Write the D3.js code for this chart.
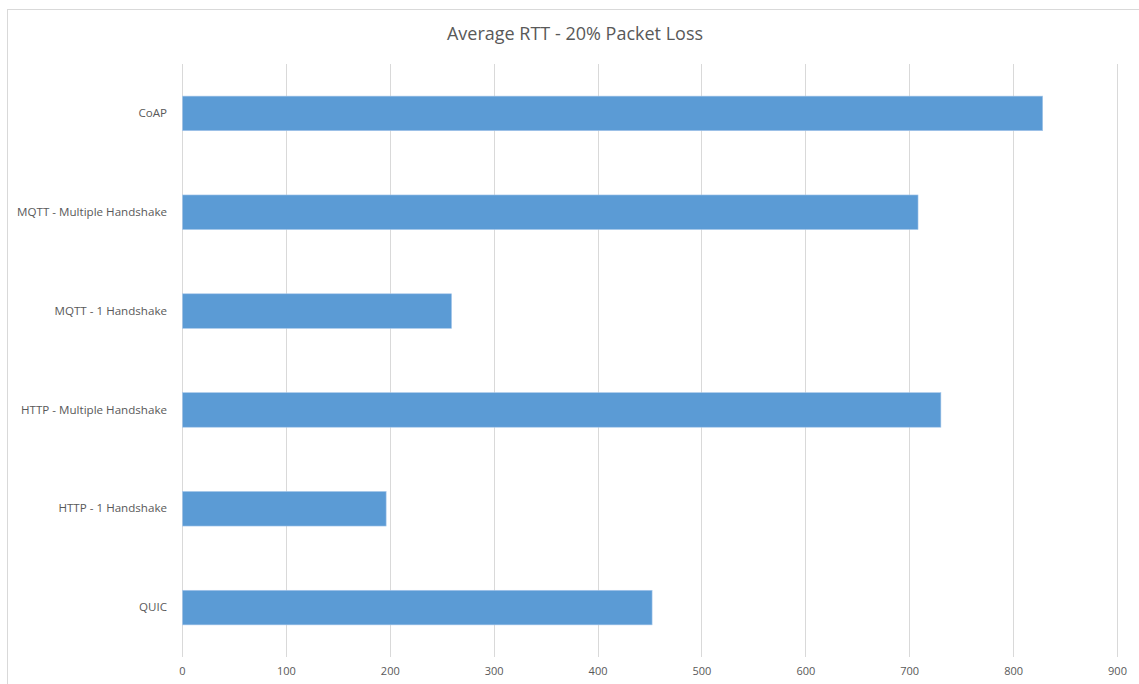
<!DOCTYPE html>
<html>
<head>
<meta charset="utf-8">
<script src="https://cdn.jsdelivr.net/npm/d3@7"></script>
<style>
  html, body { margin: 0; padding: 0; background: #ffffff; }
  svg { display: block; }
</style>
</head>
<body>
<svg id="chart" width="1139" height="684"></svg>
<script>
// Average round-trip time per protocol (ms), 20% packet loss
const categories = [
  "CoAP",
  "MQTT - Multiple Handshake",
  "MQTT - 1 Handshake",
  "HTTP - Multiple Handshake",
  "HTTP - 1 Handshake",
  "QUIC"
];
const rttValues = [828, 708, 259, 730, 196, 452];
const xTicks = [0, 100, 200, 300, 400, 500, 600, 700, 800, 900];
const chartTitle = "Average RTT - 20% Packet Loss";

const W = 1139, H = 684;
const margin = { top: 64, right: 22, bottom: 27, left: 182 };
const plotW = W - margin.left - margin.right;
const plotH = H - margin.top - margin.bottom;

const svg = d3.select("#chart");
const fontFam = "'Open Sans', 'Liberation Sans', sans-serif";
const textColor = "#595959";
const gridColor = "#d9d9d9";

// Outer chart frame (runs past the right and bottom edges)
svg.append("rect")
  .attr("x", 7.5).attr("y", 9.5)
  .attr("width", W + 20).attr("height", H + 20)
  .attr("fill", "none")
  .attr("stroke", gridColor)
  .attr("stroke-width", 1);

svg.append("text")
  .attr("x", 575).attr("y", 40)
  .attr("text-anchor", "middle")
  .attr("font-family", fontFam)
  .attr("font-size", 18)
  .attr("fill", textColor)
  .text(chartTitle);

const x = d3.scaleLinear().domain([0, 900]).range([0, plotW]);
const y = d3.scaleBand().domain(categories).range([0, plotH])
  .paddingInner(0.65).paddingOuter(0.325);

const g = svg.append("g").attr("transform", `translate(${margin.left},${margin.top})`);

// Vertical gridlines
g.append("g")
  .selectAll("line")
  .data(xTicks)
  .join("line")
  .attr("x1", d => Math.round(x(d)) + 0.5)
  .attr("x2", d => Math.round(x(d)) + 0.5)
  .attr("y1", 0).attr("y2", plotH)
  .attr("stroke", gridColor)
  .attr("stroke-width", 1);

// Bars
g.append("g")
  .selectAll("rect")
  .data(categories.map((c, i) => ({ c, v: rttValues[i] })))
  .join("rect")
  .attr("x", x(0) + 0.5)
  .attr("y", d => y(d.c))
  .attr("width", d => x(d.v) - x(0))
  .attr("height", y.bandwidth())
  .attr("fill", "#5b9bd5")
  .attr("stroke", "#a8c8ea")
  .attr("stroke-width", 0.6);

// Bottom axis labels
const xAxis = d3.axisBottom(x).tickValues(xTicks).tickSize(0).tickPadding(10);
const xg = g.append("g").attr("transform", `translate(0,${plotH})`).call(xAxis);
xg.select(".domain").remove();
xg.selectAll("text")
  .attr("font-family", fontFam)
  .attr("font-size", 11)
  .attr("fill", textColor);

// Category labels
const yAxis = d3.axisLeft(y).tickSize(0).tickPadding(15);
const yg = g.append("g").call(yAxis);
yg.select(".domain").remove();
yg.selectAll("text")
  .attr("font-family", fontFam)
  .attr("font-size", 11.6)
  .attr("fill", textColor);
</script>
</body>
</html>
